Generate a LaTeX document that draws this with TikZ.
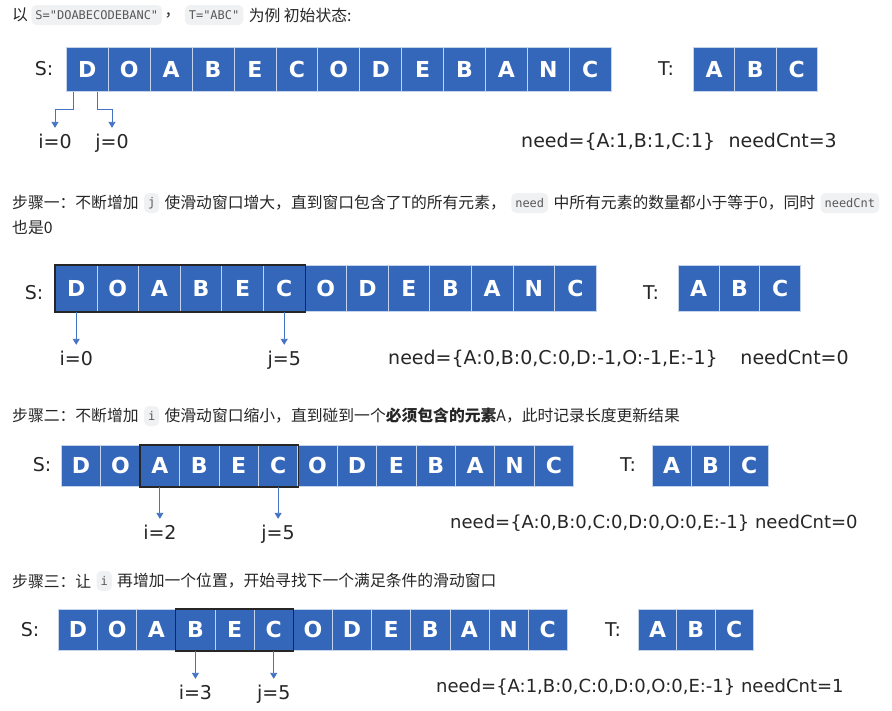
\documentclass[tikz,border=0pt]{standalone}
\usepackage{fontspec}
\setmainfont{DejaVu Sans}
\newfontfamily\cjk{Noto Sans CJK SC}
\newfontfamily\codefont{DejaVu Sans Mono}
\usetikzlibrary{positioning,arrows.meta}
\definecolor{cellblue}{RGB}{52,103,186}
\definecolor{cellline}{RGB}{196,212,236}
\definecolor{ptrblue}{RGB}{68,114,196}
\definecolor{codebg}{RGB}{240,241,242}
\definecolor{textgray}{RGB}{38,38,38}
\tikzset{
  cell/.style={draw=cellline, fill=cellblue, line width=0.8pt, text=white,
    font=\fontsize{22}{24}\selectfont\bfseries, inner sep=0pt, anchor=north west},
  tag/.style={font=\fontsize{19}{22}\selectfont, text=textgray, inner sep=0pt},
  lbl/.style={font=\fontsize{19}{22}\selectfont, text=textgray, inner xsep=1pt,
    inner ysep=6pt, text height=14pt, text depth=4pt},
  need/.style={font=\fontsize{19}{22}\selectfont, text=textgray, inner sep=0pt, anchor=west},
  hdr/.style={font=\cjk\fontsize{15.8}{18}\selectfont, text=textgray, inner sep=0pt, anchor=west},
  codebox/.style={fill=codebg, rounded corners=5pt, font=\codefont\fontsize{12}{14}\selectfont,
    text=black!65, inner xsep=4pt, inner ysep=0pt, minimum height=20pt, minimum width=15pt},
  window/.style={draw=black!85, line width=1.4pt},
  ptr/.style={draw=ptrblue, line width=0.9pt, -{Triangle[width=7pt,length=6pt]}}
}

\begin{document}
\begin{tikzpicture}[x=1pt, y=-1pt]
  \fill[white] (0,0) rectangle (892,710);
  \useasboundingbox (0,0) rectangle (892,710);

  % headers
  \node[hdr] (h1a) at (12,15) {以};
  \node[codebox, right=3pt of h1a] (h1b) {S="DOABECODEBANC"};
  \node[hdr, right=2pt of h1b] (h1c) {，};
  \node[codebox, right=4pt of h1c] (h1d) {T="ABC"};
  \node[hdr, right=5pt of h1d] (h1e) {为例 初始状态:};

  \node[hdr] (h2a) at (12,203) {步骤一：不断增加};
  \node[codebox, right=5pt of h2a] (h2b) {j};
  \node[hdr, right=5pt of h2b] (h2c) {使滑动窗口增大，直到窗口包含了T的所有元素，};
  \node[codebox, right=5pt of h2c] (h2d) {need};
  \node[hdr, right=5pt of h2d] (h2e) {中所有元素的数量都小于等于0，同时};
  \node[codebox, right=5pt of h2e] (h2f) {needCnt};
  \node[hdr] (h2g) at (12,228) {也是0};

  \node[hdr] (h3a) at (12,416) {步骤二：不断增加};
  \node[codebox, right=5pt of h3a] (h3b) {i};
  \node[hdr, right=5pt of h3b] (h3c) {使滑动窗口缩小，直到碰到一个\textbf{必须包含的元素}A，此时记录长度更新结果};

  \node[hdr] (h4a) at (12,581) {步骤三：让};
  \node[codebox, right=5pt of h4a] (h4b) {i};
  \node[hdr, right=5pt of h4b] (h4c) {再增加一个位置，开始寻找下一个满足条件的滑动窗口};

  % the four rows of S and T
  \foreach \r/\sx/\sy/\w/\h/\tx/\tw in {1/66/47/41.9/44/693/41.3, 2/55/265/41.6/46/678/40.7,
      3/61/445/39.4/41/652/38.7, 4/58/609/39.15/41/638/38.3}{
    \foreach \ch [count=\k from 0] in {D,O,A,B,E,C,O,D,E,B,A,N,C}
      \node[cell, minimum width=\w pt, minimum height=\h pt] (s\r-\k) at ({\sx+\k*\w},\sy) {\ch};
    \foreach \ch [count=\k from 0] in {A,B,C}
      \node[cell, minimum width=\tw pt, minimum height=\h pt] (t\r-\k) at ({\tx+\k*\tw},\sy) {\ch};
  }

  \node[tag] (S1) at (44,69) {S:};
  \node[tag] (T1) at (666,69) {T:};
  \node[tag] (S2) at (34,293) {S:};
  \node[tag] (T2) at (651,293) {T:};
  \node[tag] (S3) at (42,465) {S:};
  \node[tag] (T3) at (628,465) {T:};
  \node[tag] (S4) at (30,630) {S:};
  \node[tag] (T4) at (613,630) {T:};

  % sliding windows
  \draw[window] (s2-0.north west) rectangle (s2-5.south east);
  \draw[window] (s3-2.north west) rectangle (s3-5.south east);
  \draw[window] (s4-3.north west) rectangle (s4-5.south east);

  % pointers i and j
  \node[lbl] (i1) at (55,143) {i=0};
  \node[lbl] (j1) at (112,143) {j=0};
  \draw[ptr] ([xshift=7pt]s1-0.south west) -- ++(0,18) -| (i1.north);
  \draw[ptr] ([xshift=31pt]s1-0.south west) -- ++(0,18) -| (j1.north);

  \node[lbl, below=33pt of s2-0] (i2) {i=0};
  \node[lbl, below=33pt of s2-5] (j2) {j=5};
  \draw[ptr] (s2-0) -- (i2);
  \draw[ptr] (s2-5) -- (j2);

  \node[lbl, below=32pt of s3-2] (i3) {i=2};
  \node[lbl, below=32pt of s3-5] (j3) {j=5};
  \draw[ptr] (s3-2) -- (i3);
  \draw[ptr] (s3-5) -- (j3);

  \node[lbl, below=28pt of s4-3] (i4) {i=3};
  \node[lbl, below=28pt of s4-5] (j4) {j=5};
  \draw[ptr] (s4-3) -- (i4);
  \draw[ptr] (s4-5) -- (j4);

  % need tables
  \node[need] (n1) at (521,142) {need=\{A:1,B:1,C:1\}\hspace{0.7em}needCnt=3};
  \node[need] (n2) at (388,359) {need=\{A:0,B:0,C:0,D:-1,O:-1,E:-1\}\hspace{1.2em}needCnt=0};
  \node[need, font=\fontsize{18}{22}\selectfont] (n3) at (450,523) {need=\{A:0,B:0,C:0,D:0,O:0,E:-1\} needCnt=0};
  \node[need, font=\fontsize{18}{22}\selectfont] (n4) at (436,687) {need=\{A:1,B:0,C:0,D:0,O:0,E:-1\} needCnt=1};
\end{tikzpicture}
\end{document}
